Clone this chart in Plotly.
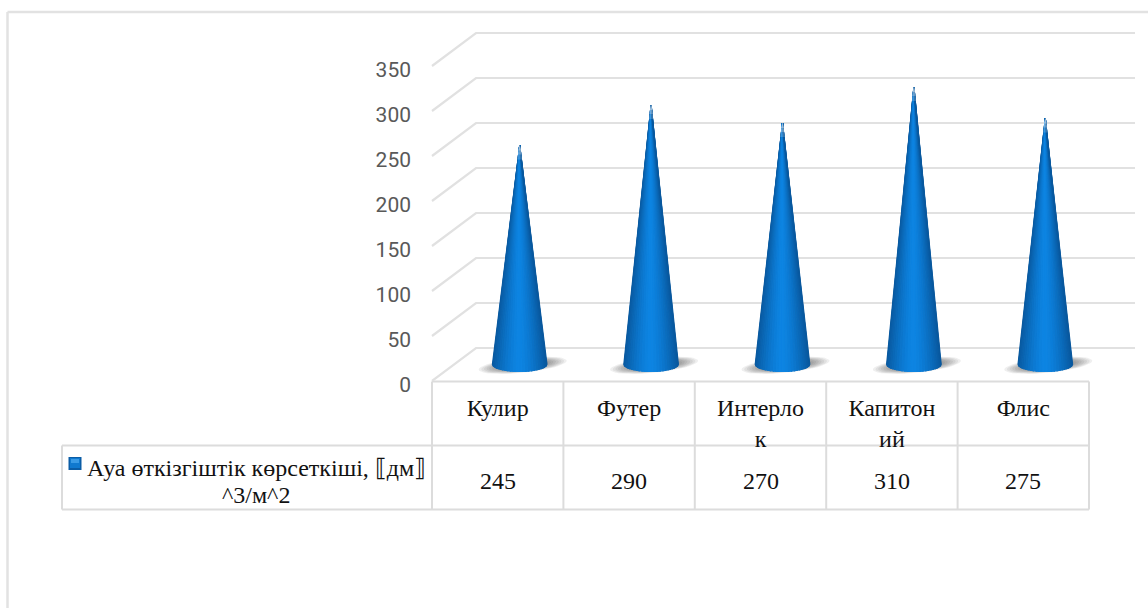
import math
import plotly.graph_objects as go

categories = ["Кулир", "Футер", "Интерло<br>к", "Капитон<br>ий", "Флис"]
values = [245, 290, 270, 310, 275]
series_lines = ["Ауа өткізгіштік көрсеткіші, ⟦дм⟧", "^3/м^2"]
y_ticks = [0, 50, 100, 150, 200, 250, 300, 350]

W, H = 1148, 608
X0, CELL = 432.0, 131.4      # left of table, category cell width (px)
Y0, PXU = 381.0, 0.9         # baseline pixel, pixels per value unit
DX, DY = 44.0, 33.0          # depth of the 3-D box (px)
GRID = "#e1e1e1"
TABLE = "#dcdcdc"
SERIF = "Liberation Serif"


def xr(px):
    return (px - X0) / CELL - 0.5


def yr(px):
    return (Y0 - px) / PXU


fig = go.Figure()

# wall + side gridlines, derived from the y ticks
gx, gy = [], []
back_end = 1135
for v in y_ticks:
    p = Y0 - v * PXU
    gx += [xr(X0), xr(X0 + DX), xr(back_end), None]
    gy += [v, yr(p - DY), yr(p - DY), None]
fig.add_trace(go.Scatter(x=gx, y=gy, mode="lines", line=dict(color=GRID, width=2.2),
                         hoverinfo="skip", showlegend=False))

# soft floor shadow
layers = 10
for n in range(layers):
    scale = 1.0 - 0.06 * n
    sx, sy = [], []
    for i in range(len(values)):
        cx = X0 + CELL * (i + .5) + DX / 2
        for k in range(41):
            a = 2 * math.pi * k / 40
            dx = 44 * scale * math.cos(a) + 3
            dy = 7.5 * scale * math.sin(a)
            sx.append(xr(cx + dx))
            sy.append(yr(365.5 + dy - 0.1 * dx))
        sx.append(None)
        sy.append(None)
    fig.add_trace(go.Scatter(x=sx, y=sy, mode="lines", fill="toself", line=dict(width=0),
                             fillcolor="rgba(40,40,40,0.075)", hoverinfo="skip", showlegend=False))


def shade(u):
    t = abs(u) ** 1.5
    c1, c2 = (13, 133, 227), (9, 88, 158)
    return "rgb(%d,%d,%d)" % tuple(round(a + (b - a) * t) for a, b in zip(c1, c2))


# cones, one filled trace per shading strip
N = 28
R, BOW = 27.5, 7.5
TIP_INSET = 2.0
for j in range(N):
    a0 = -math.pi / 2 + math.pi * j / N
    a1 = -math.pi / 2 + math.pi * (j + 1) / N
    col = shade(math.sin((a0 + a1) / 2))
    sx, sy = [], []
    for i, v in enumerate(values):
        cx = X0 + CELL * (i + .5) + DX / 2
        base = Y0 - DY / 2 - 0.5
        tip = base - v * PXU + TIP_INSET
        sx += [xr(cx), xr(cx + R * math.sin(a0)), xr(cx + R * math.sin(a1)), xr(cx), None]
        sy += [yr(tip), yr(base + BOW * math.cos(a0)), yr(base + BOW * math.cos(a1)), yr(tip), None]
    fig.add_trace(go.Scatter(x=sx, y=sy, mode="lines", fill="toself",
                             line=dict(width=1.2, color=col), fillcolor=col,
                             hoverinfo="skip", showlegend=False))

# faded cone tips
for length, alpha in [(14, .18), (9, .25), (5, .35)]:
    sx, sy = [], []
    for i, v in enumerate(values):
        cx = X0 + CELL * (i + .5) + DX / 2
        tip = Y0 - DY / 2 - 0.5 - v * PXU + TIP_INSET
        hw = R * length / (v * PXU) + 1
        sx += [xr(cx), xr(cx - hw), xr(cx + hw), xr(cx), None]
        sy += [yr(tip - 1), yr(tip + length), yr(tip + length), yr(tip - 1), None]
    fig.add_trace(go.Scatter(x=sx, y=sy, mode="lines", fill="toself", line=dict(width=0),
                             fillcolor=f"rgba(255,255,255,{alpha})", hoverinfo="skip", showlegend=False))


def line(x0, y0, x1, y1, color=TABLE, width=2):
    return dict(type="line", xref="paper", yref="paper", x0=x0 / W, x1=x1 / W,
                y0=1 - y0 / H, y1=1 - y1 / H, line=dict(color=color, width=width), layer="below")


def box(x0, y0, x1, y1, color):
    return dict(type="rect", xref="paper", yref="paper", x0=x0 / W, x1=x1 / W, y0=1 - y0 / H, y1=1 - y1 / H,
                line=dict(width=0), fillcolor=color)


shapes = [line(7.5, 12, W, 12, "#e2e2e2", 2.5), line(7.5, 12, 7.5, H, "#e2e2e2", 2.5)]
# data table
edges = [X0 + CELL * i for i in range(len(values) + 1)]
shapes.append(line(X0, 381.5, edges[-1], 381.5))
shapes.append(line(62, 445.5, edges[-1], 445.5))
shapes.append(line(62, 509.5, edges[-1], 509.5))
shapes.append(line(62, 445.5, 62, 509.5))
for e in edges:
    shapes.append(line(e, 381.5, e, 509.5))
# legend key
shapes += [box(68.5, 457, 81.5, 470, "#0b5da6"), box(70, 458, 80, 468, "#1079cf"), box(71, 459, 79, 463, "#3a9be6")]

text_font = dict(family=SERIF, size=24, color="#111111")
annotations = [dict(x=i, xref="x", y=1 - 481 / H, yref="paper", text=str(v), showarrow=False,
                    xanchor="center", yanchor="middle", font=text_font)
               for i, v in enumerate(values)]
for text, py in zip(series_lines, [468, 495]):
    annotations.append(dict(x=256 / W, xref="paper", y=1 - py / H, yref="paper", text=text, showarrow=False,
                            xanchor="center", yanchor="middle", align="center", font=text_font))

fig.update_layout(
    width=W, height=H, margin=dict(l=0, r=0, t=0, b=0, autoexpand=False), autosize=False,
    paper_bgcolor="white", plot_bgcolor="rgba(0,0,0,0)", showlegend=False,
    shapes=shapes, annotations=annotations,
    xaxis=dict(domain=[0, 1], range=[xr(0), xr(W)], tickmode="array", tickvals=list(range(len(categories))),
               ticktext=categories, showgrid=False, zeroline=False, showline=False, ticks="", automargin=False,
               ticklabelstandoff=10, tickangle=0, tickfont=text_font),
    yaxis=dict(domain=[1 - Y0 / H, 1], range=[0, Y0 / PXU], tickmode="array", tickvals=y_ticks,
               anchor="free", position=X0 / W, showgrid=False, zeroline=False, showline=False, ticks="", automargin=False,
               ticklabelstandoff=21, ticklabelshift=4, tickfont=dict(family="Roboto", size=21, color="#595959")),
)

fig.write_html("out.html", config={"responsive": False, "displayModeBar": False},
               default_width=f"{W}px", default_height=f"{H}px",
               post_script="document.body.style.margin='0';document.documentElement.style.overflow='hidden';")
